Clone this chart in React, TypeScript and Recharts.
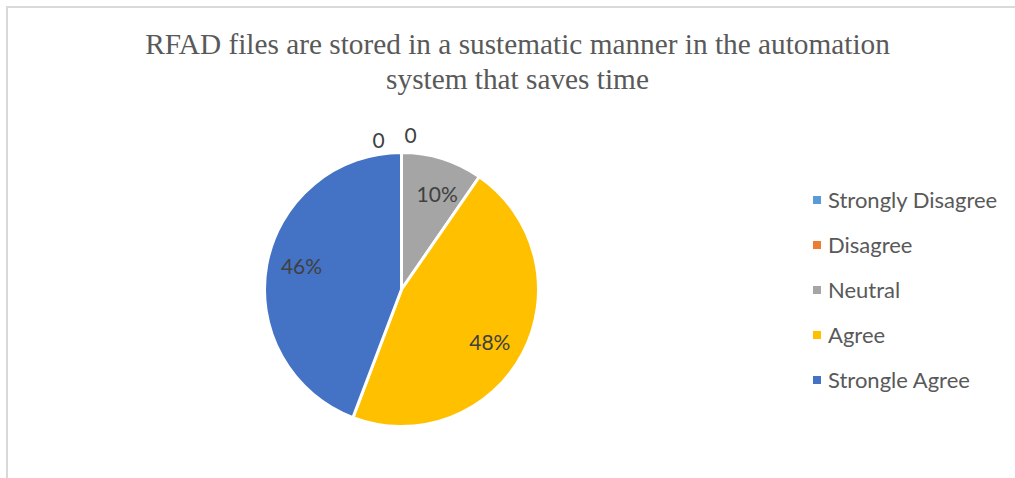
import React from "react";
import { PieChart, Pie, Cell, Legend } from "recharts";

const categories = ["Strongly Disagree", "Disagree", "Neutral", "Agree", "Strongle Agree"];
const values = [0, 0, 0.1, 0.48, 0.46];
const colors = ["#5B9BD5", "#ED7D31", "#A5A5A5", "#FFC000", "#4472C4"];
const titleLines = ["RFAD files are stored in a sustematic manner in the automation", "system that saves time"];

const data = categories.map((name, i) => ({ name, value: values[i] }));

const RAD = Math.PI / 180;

const renderLabel = (props: any) => {
  const { cx, cy, midAngle, outerRadius, value, index } = props;
  if (value === 0) {
    const r = outerRadius + 14;
    const x = cx + r * Math.cos(-midAngle * RAD) + (index === 0 ? -23 : 9);
    const y = cy + r * Math.sin(-midAngle * RAD) + (index === 0 ? 1 : -4);
    return (
      <text x={x} y={y} fill="#404040" fontSize={21} fontFamily="Lato, 'Open Sans', sans-serif" textAnchor="middle" dominantBaseline="central">
        0
      </text>
    );
  }
  const r = outerRadius * 0.75;
  const a = midAngle - 3;
  const x = cx + r * Math.cos(-a * RAD);
  const y = cy + r * Math.sin(-a * RAD);
  return (
    <text x={x} y={y} fill="#404040" fontSize={21} fontFamily="Lato, 'Open Sans', sans-serif" textAnchor="middle" dominantBaseline="central">
      {`${Math.round(value * 100)}%`}
    </text>
  );
};

const renderLegend = (props: any) => {
  const payload = [...(props.payload || [])].sort(
    (a: any, b: any) => categories.indexOf(a.value) - categories.indexOf(b.value)
  );
  return (
    <div style={{ display: "flex", flexDirection: "column" }}>
      {payload.map((entry: any, i: number) => (
        <div key={i} style={{ display: "flex", alignItems: "center", height: 45 }}>
          <div style={{ width: 8, height: 8, background: entry.color, marginRight: 7 }} />
          <span style={{ color: "#595959", fontSize: 22, fontFamily: "Lato, 'Open Sans', sans-serif" }}>{entry.value}</span>
        </div>
      ))}
    </div>
  );
};

export default function App() {
  return (
    <div
      style={{
        position: "absolute",
        left: 6,
        top: 6,
        width: 1009,
        height: 472,
        borderLeft: "2px solid #d9d9d9",
        borderTop: "2px solid #d9d9d9",
        boxSizing: "border-box",
        overflow: "hidden",
      }}
    >
      <div
        style={{
          position: "absolute",
          left: 2,
          width: 1015,
          top: 19,
          textAlign: "center",
          fontFamily: "'Liberation Serif', 'Times New Roman', serif",
          fontSize: 29.3,
          lineHeight: "35px",
          color: "#595959",
        }}
      >
        {titleLines.map((t, i) => (
          <div key={i}>{t}</div>
        ))}
      </div>
      <PieChart width={1007} height={470} margin={{ top: 0, right: 0, bottom: 0, left: 0 }} style={{ position: "absolute", left: 0, top: 0 }}>
        <Pie
          data={data}
          dataKey="value"
          nameKey="name"
          cx={393.5}
          cy={281.5}
          outerRadius={137}
          startAngle={90}
          endAngle={-270}
          stroke="#ffffff"
          strokeWidth={3}
          label={renderLabel}
          labelLine={false}
          isAnimationActive={false}
        >
          {data.map((d, i) => (
            <Cell key={i} fill={colors[i]} />
          ))}
        </Pie>
        <Legend
          layout="vertical"
          content={renderLegend}
          wrapperStyle={{ position: "absolute", left: 805, top: 169, width: 210 }}
        />
      </PieChart>
    </div>
  );
}
